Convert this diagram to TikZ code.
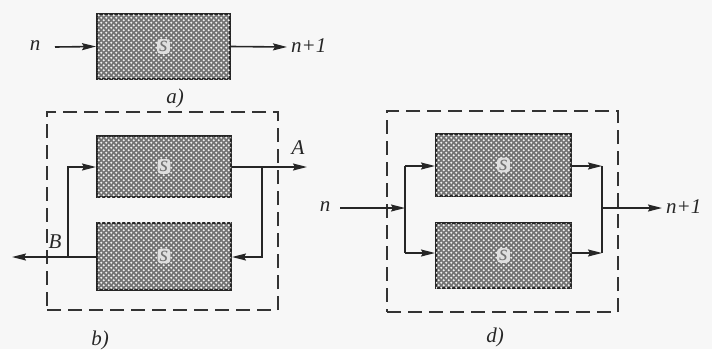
\documentclass[tikz,border=0pt]{standalone}
\usepackage{fontspec}
\setmainfont{Liberation Serif}
\usetikzlibrary{arrows.meta,patterns}
\pgfdeclarepatternformonly{bigdots}{\pgfpoint{-1pt}{-1pt}}{\pgfpoint{6pt}{6pt}}{\pgfpoint{5pt}{5pt}}{%
  \pgfpathcircle{\pgfpoint{1.25pt}{1.25pt}}{1.1pt}%
  \pgfpathcircle{\pgfpoint{3.75pt}{3.75pt}}{1.1pt}%
  \pgfusepath{fill}}
\begin{document}
\begin{tikzpicture}[x=1pt,y=-1pt,
  sbox/.style={draw=black!85, line width=2pt, fill=black!55, minimum width=#1,
    postaction={pattern=bigdots, pattern color=gray!12},
    label={[slab]center:s}},
  slab/.style={fill=gray!25, inner sep=2pt, rounded corners=3pt, font=\fontsize{22}{24}\selectfont\itshape, text=black!55},
  dbox/.style={draw=black!80, line width=1.3pt, dash pattern=on 14pt off 7pt, minimum width=231pt, inner sep=0pt},
  arr/.style={draw=black!85, line width=1.6pt, -{Stealth[length=14pt,width=7pt,inset=2pt]}},
  ln/.style={draw=black!85, line width=1.6pt},
  txt/.style={font=\fontsize{21}{24}\selectfont\itshape, inner sep=1pt, text=black!85}
]
\useasboundingbox[fill=gray!6] (0,0) rectangle (712,349);

% a)
\node[sbox=133pt, minimum height=65pt] (sa) at (163.5,46.5) {};
\node[txt] (an) at (35,46) {n};
\coordinate (ain) at (55,47);
\coordinate (aout) at (287,47);
\node[txt, anchor=west] (anp) at (290,46) {n+1};
\draw[arr] (ain) -- (sa.west);
\draw[arr] (sa.east) -- (aout);
\node[txt] (la) at (175,98) {a)};

% b)
\node[dbox, minimum height=198pt] (db) at (162.5,211) {};
\node[sbox=134pt, minimum height=61pt] (sb1) at (164,166.5) {};
\node[sbox=134pt, minimum height=67pt] (sb2) at (164,256) {};
\coordinate (bL) at (68,257);
\coordinate (bR) at (262,167);
\coordinate (bA) at (307,167);
\coordinate (bB) at (12,257);
\draw[arr] (sb2.west |- bL) -- (bB);
\draw[arr] (bL) |- (sb1.west |- bR);
\draw[arr] (sb1.east |- bR) -- (bA);
\draw[arr] (bR) |- (sb2.east |- bL);
\node[txt] (lA) at (298,148) {A};
\node[txt] (lB) at (55,242) {B};
\node[txt] (lb) at (100,340) {b)};

% d)
\node[dbox, minimum height=201pt] (dd) at (502.5,211.5) {};
\node[sbox=135pt, minimum height=62pt] (sd1) at (503.5,165) {};
\node[sbox=135pt, minimum height=65pt] (sd2) at (503.5,255.5) {};
\node[txt] (dn) at (325,207) {n};
\coordinate (din) at (340,208);
\coordinate (dL) at (405,208);
\coordinate (dLt) at (405,166);
\coordinate (dLb) at (405,253);
\coordinate (dR) at (602,208);
\coordinate (dRt) at (602,166);
\coordinate (dRb) at (602,253);
\coordinate (dout) at (662,208);
\draw[arr] (din) -- (dL);
\draw[ln] (dLt) -- (dLb);
\draw[arr] (dLt) -- (sd1.west |- dLt);
\draw[arr] (dLb) -- (sd2.west |- dLb);
\draw[arr] (sd1.east |- dRt) -- (dRt);
\draw[arr] (sd2.east |- dRb) -- (dRb);
\draw[ln] (dRt) -- (dRb);
\draw[arr] (dR) -- (dout);
\node[txt, anchor=west] (dnp) at (665,207) {n+1};
\node[txt] (ld) at (495,337) {d)};
\end{tikzpicture}
\end{document}
